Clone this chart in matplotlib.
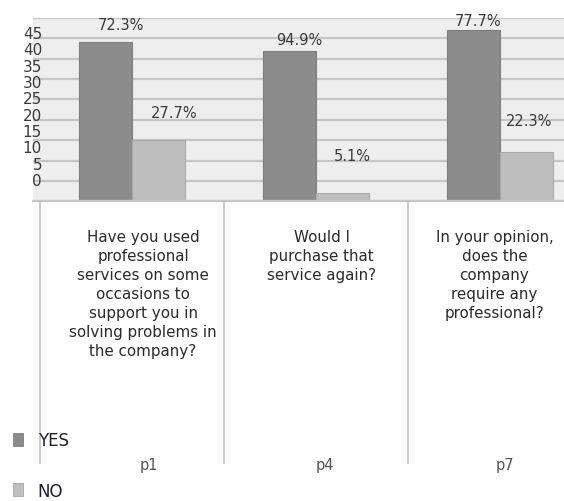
import numpy as np
import matplotlib.pyplot as plt
from matplotlib.patches import Patch

# --- survey results (counts per answer) and printed percentages
questions = ['p1', 'p4', 'p7']
question_text = [
    'Have you used\nprofessional\nservices on some\noccasions to\nsupport you in\nsolving problems in\nthe company?',
    'Would I\npurchase that\nservice again?',
    'In your opinion,\ndoes the\ncompany\nrequire any\nprofessional?',
]
yes_counts = [39, 37, 42]
no_counts = [15, 2, 12]
yes_pct = ['72.3%', '94.9%', '77.7%']
no_pct = ['27.7%', '5.1%', '22.3%']
y_ticks = [0, 5, 10, 15, 20, 25, 30, 35, 40, 45]

# label offsets above the bar tops (points)
yes_lbl_off = [(11, 13), (7, 8), (3, 7)]
no_lbl_off = [(11, 20), (7, 27), (2, 23)]

YES_C = '#8c8c8c'
NO_C = '#bebebe'
GRID_C = '#c6c6c6'
TXT_C = '#3a3a3a'

W, H = 564, 502
fig = plt.figure(figsize=(W / 100, H / 100), dpi=100)

def fx(px):
    return px / W

def fy(px):
    return 1 - px / H

# plot area: x in category units, one category = 184 px, p1 centred at 132 px
x0, x1 = (33 - 132) / 184, (564 - 132) / 184
ax = fig.add_axes([fx(33), fy(202.3), fx(564 - 33), (202.3 - 19) / H])
ax.set_facecolor('#eeeeee')
ax.set_xlim(x0, x1)
ax.set_ylim(0, 45)
ax.set_yticks(y_ticks)
ax.set_xticks([])
ax.tick_params(left=False, labelleft=False)
ax.grid(axis='y', color=GRID_C, lw=1.6)
ax.set_axisbelow(True)
for s in ax.spines.values():
    s.set_visible(False)

x = np.arange(len(questions))
bw = 0.288
bars_yes = ax.bar(x - bw / 2, yes_counts, bw, color=YES_C, edgecolor='#7d7d7d', lw=0.8)
bars_no = ax.bar(x + bw / 2, no_counts, bw, color=NO_C, edgecolor='#a9a9a9', lw=0.8)

for bars, labels, offs in [(bars_yes, yes_pct, yes_lbl_off), (bars_no, no_pct, no_lbl_off)]:
    for b, lab, (dx, dy) in zip(bars, labels, offs):
        ax.annotate(lab, (b.get_x() + b.get_width() / 2, b.get_height()),
                    xytext=(dx, dy), textcoords='offset points',
                    ha='center', va='center', fontsize=10.5, color=TXT_C,
                    annotation_clip=False)

# y tick labels sit on their own, more compressed scale
lax = fig.add_axes([fx(42), fy(180), 0.0001, (180 - 33) / H])
lax.set_ylim(0, 45)
lax.set_yticks(y_ticks)
lax.set_xticks([])
lax.tick_params(axis='y', length=0, pad=0, labelsize=11, labelcolor=TXT_C)
lax.patch.set_visible(False)
for s in lax.spines.values():
    s.set_visible(False)

# category table under the plot
tax = fig.add_axes([fx(33), fy(465), fx(564 - 33), (465 - 202.3) / H])
tax.set_xlim(x0, x1)
tax.set_ylim(0, 1)
tax.axis('off')
tax.axhline(1, color=GRID_C, lw=1.6, clip_on=False)
for sep in [-0.5, 0.5, 1.5]:
    tax.axvline(sep, color='#cccccc', lw=1.4)
text_dx = [0.06, 0.03, -0.03]
name_dx = [0.09, 0.05, 0.025]
for i, (q, txt) in enumerate(zip(questions, question_text)):
    tax.text(i + text_dx[i], 0.895, txt, ha='center', va='top', fontsize=10.9,
             color='#2b2b2b', linespacing=1.33)
    tax.text(i + name_dx[i], -0.003, q, ha='center', va='center', fontsize=10.5,
             color='#555555', clip_on=False)

handles = [Patch(facecolor=YES_C, edgecolor='#7d7d7d', lw=0.6),
           Patch(facecolor=NO_C, edgecolor='#a9a9a9', lw=0.6)]
fig.legend(handles, ['YES', 'NO'], loc='lower left', bbox_to_anchor=(-0.004, -0.027),
           frameon=False, fontsize=12, handlelength=0.6, handleheight=0.8,
           handletextpad=0.9, labelspacing=1.95, labelcolor='#1e1e30')

fig.savefig('out.png', dpi=100)
